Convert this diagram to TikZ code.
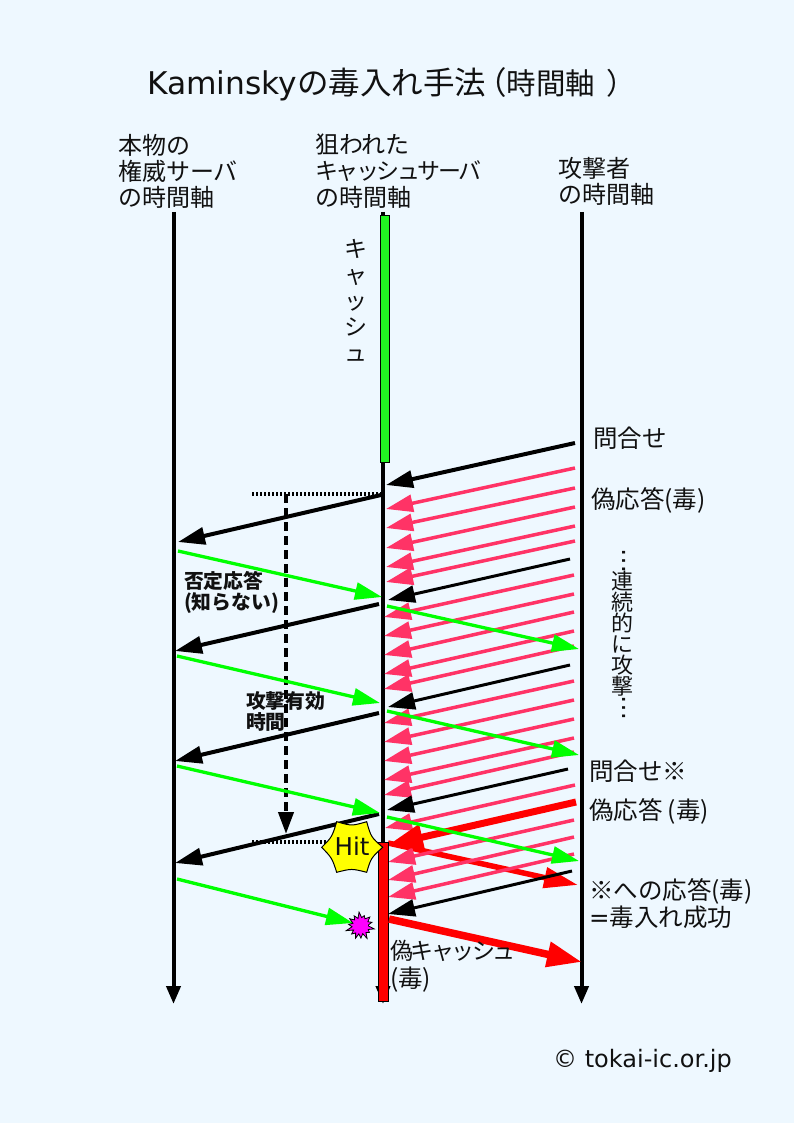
\documentclass[tikz,border=0pt]{standalone}
\usepackage{fontspec}
\usetikzlibrary{arrows.meta}
\setmainfont{DejaVu Sans}
\newfontfamily\jp{Noto Sans CJK JP}
\newfontfamily\jpt[LetterSpace=-10.5]{Noto Sans CJK JP}
\definecolor{bgc}{HTML}{EEF8FF}
\definecolor{pinkc}{HTML}{FF3366}
\definecolor{greenc}{HTML}{00FF00}
\definecolor{barg}{HTML}{22F522}
\definecolor{redc}{HTML}{FF0000}
\definecolor{magc}{HTML}{FF00FF}
\definecolor{yelc}{HTML}{FFFF00}
\definecolor{txt}{HTML}{111111}
\newcommand{\conn}[6]{\coordinate (#2s) at (#3,#4); \coordinate (#2e) at (#5,#6); \draw[#1] (#2s) -- (#2e);}
\tikzset{
 axisline/.style={line width=4pt,black,-{Triangle[length=18pt,width=14pt]}},
 blackarr/.style={line width=4pt,black,-{Triangle[length=27pt,width=17pt]}},
 blackthin/.style={line width=3pt,black,-{Triangle[length=27pt,width=17pt]}},
 pinkarr/.style={line width=3.5pt,pinkc,-{Triangle[length=27pt,width=17pt]}},
 greenarr/.style={line width=3.3pt,greenc,-{Triangle[length=27pt,width=17pt]}},
 redone/.style={line width=7pt,redc,-{Triangle[length=35pt,width=25pt]}},
 redtwo/.style={line width=5.5pt,redc,-{Triangle[length=34pt,width=20pt]}},
 redthree/.style={line width=7.5pt,redc,-{Triangle[length=35pt,width=24pt]}},
 dots/.style={line width=3.5pt,black,dash pattern=on 2pt off 2pt},
 dashv/.style={line width=4pt,black,dash pattern=on 9pt off 5pt,-{Triangle[length=22pt,width=15pt]}},
 lab/.style={inner sep=0pt,outer sep=0pt,anchor=north west,align=left,text=txt,font=\fontsize{24.5}{26}\selectfont\jp},
 hlab/.style={inner sep=0pt,outer sep=0pt,anchor=north west,align=left,text=txt,font=\fontsize{24}{26}\selectfont\jp},
 blab/.style={inner sep=0pt,outer sep=0pt,anchor=north west,align=left,text=txt,font=\fontsize{19.8}{21}\selectfont\jp\bfseries},
 vlab/.style={inner sep=0pt,outer sep=0pt,anchor=north,align=center,text=txt},
 barbox/.style={draw=black,line width=1pt},
}
\begin{document}
\begin{tikzpicture}[x=1pt,y=-1pt]
\useasboundingbox (0,0) rectangle (794,1123);
\fill[bgc] (0,0) rectangle (794,1123);

% title
\node[inner sep=0pt,anchor=base west,text=txt,font=\fontsize{31.3}{36}\selectfont] (title) at (147,95) {Kaminsky{\jp\fontsize{31.5}{36}\selectfont の毒入れ手法\hspace{-11pt}（\fontsize{29.5}{36}\selectfont 時間軸\hspace{11pt}）}};

% column heads
\node[hlab] (h1) at (118,134) {本物の\\権威サーバ\\の時間軸};
\node[hlab] (h2) at (315,134) {狙われた\\{\fontsize{23}{26}\jpt\selectfont キャッシュサーバ}\\[1pt]の時間軸};
\node[hlab] (h3) at (558,157) {攻撃者\\の時間軸};

% time axes
\coordinate (a1t) at (173.5,212); \coordinate (a1b) at (173.5,1004);
\coordinate (a2t) at (383,212); \coordinate (a2b) at (383,1004);
\coordinate (a3t) at (581.5,212); \coordinate (a3b) at (581.5,1004);
\draw[axisline] (a1t) -- (a1b);
\draw[axisline] (a2t) -- (a2b);
\draw[axisline] (a3t) -- (a3b);

% dotted marks and duration
\coordinate (d1a) at (252,494); \coordinate (d1b) at (381,494);
\coordinate (d2a) at (252,842); \coordinate (d2b) at (330,842);
\draw[dots] (d1a) -- (d1b);
\draw[dots] (d2a) -- (d2b);
\coordinate (dva) at (286,494); \coordinate (dvb) at (286,834);
\draw[dashv] (dva) -- (dvb);

% red: forged reply going right
\conn{redtwo}{rb}{388}{843}{578}{885}

% pink attack arrows
\foreach \n/\xa/\ya/\xb/\yb in {
 p1/575/468/386/509, p2/575/488/386/528, p3/575/507/386/548, p4/575/526/386/567, p5/575/541/386/582,
 p6/574/575/384/617, p7/574/594/384/636, p8/574/612/384/655, p9/574/631/384/674, p10/574/646/384/689,
 p11/574/681/384/723, p12/574/700/384/742, p13/574/719/384/761, p14/574/738/384/780, p15/574/752/384/795,
 p16/575/785/385/828, p17/574/820/388/862, p18/574/837/388/880, p19/574/854/388/897}
 {\conn{pinkarr}{\n}{\xa}{\ya}{\xb}{\yb}}

% hit reply
\conn{redone}{ra}{576}{802}{388}{845}

% black arrows
\conn{blackarr}{k1}{575}{443}{386}{485}
\conn{blackthin}{k2}{570}{559}{388}{600}
\conn{blackthin}{k3}{570}{665}{388}{707}
\conn{blackthin}{k4}{568}{769}{387}{810}
\conn{blackthin}{k5}{572}{871}{388}{914}
\conn{blackarr}{l1}{381}{495}{178}{542}
\conn{blackarr}{l2}{379}{604}{175}{651}
\conn{blackarr}{l3}{379}{713}{175}{761}
\conn{blackarr}{l4}{379}{814}{175}{863}

% green arrows
\conn{greenarr}{g1}{178}{551}{382}{597}
\conn{greenarr}{g2}{177}{656}{380}{703}
\conn{greenarr}{g3}{177}{766}{380}{813}
\conn{greenarr}{g4}{177}{879}{353}{923}
\conn{greenarr}{h1a}{387}{606}{579}{649}
\conn{greenarr}{h2a}{387}{711}{579}{755}
\conn{greenarr}{h3a}{387}{817}{579}{861}

% cache bars
\node[barbox,fill=barg,minimum width=9.5pt,minimum height=247pt,inner sep=0pt,anchor=north] (cache) at (385,215) {};
\node[barbox,fill=redc,minimum width=10pt,minimum height=159pt,inner sep=0pt,anchor=north] (fake) at (383,842) {};

% final poison
\conn{redthree}{rc}{389}{919}{582}{962}

% hit star
\draw[black,line width=1pt,fill=yelc] (321.7,847.3)
  .. controls (332,837) .. (336.7,821.7)
  .. controls (351.7,826) .. (366.7,821.7)
  .. controls (371,837) .. (382.7,847.3)
  .. controls (371,858) .. (366.7,872.3)
  .. controls (351.7,868.5) .. (336.7,872.3)
  .. controls (332,858) .. (321.7,847.3) -- cycle;
\node[inner sep=0pt,text=txt,font=\fontsize{24.5}{28}\selectfont] (hit) at (352,846.5) {Hit};

% magenta burst
\begin{scope}[shift={(360.5,926)}]
\draw[black,line width=.8pt,fill=magc] (0:8)
 \foreach \a/\r in {12/14,24/8.5,36/11,50/8.5,62/14,74/8,88/12,102/8,112/13,125/8.5,138/12,150/8,162/15,175/8.5,188/12,200/8,214/13,226/8.5,238/12,252/8,264/14,278/8.5,290/11,302/8.5,316/13,330/8.5,342/12,352/8}
 { -- (\a:\r)} -- cycle;
\end{scope}

% side labels
\node[vlab,font=\fontsize{23}{26}\selectfont\jp] (vcache) at (356,239) {キ\\ャ\\ッ\\シ\\ュ};
\node[vlab,font=\fontsize{22}{21}\selectfont\jp] (vattack) at (622,571.5) {連\\続\\的\\に\\攻\\撃};
\node[inner sep=0pt,rotate=-90,anchor=base,text=txt,font=\fontsize{25}{28}\selectfont] (dtop) at (622,561) {…};
\node[inner sep=0pt,rotate=-90,anchor=base,text=txt,font=\fontsize{25}{28}\selectfont] (dbot) at (622,708) {…};

\node[lab] (t1) at (593,427) {問合せ};
\node[lab] (t2) at (591,488) {偽応答(毒)};
\node[lab] (t3) at (589,760) {問合せ※};
\node[lab] (t4) at (589,799) {偽応答 (毒)};
\node[lab] (t5) at (589,879) {※への応答(毒)\\[1pt]{\fontfamily{\rmdefault}\selectfont =}毒入れ成功};
\node[lab] (t6) at (390,940) {{\fontsize{23}{26}\jpt\selectfont 偽キャッシュ}\\[2pt](毒)};
\node[blab] (b1) at (184,571.5) {否定応答\\(知らない)};
\node[blab] (b2) at (246,691.5) {攻撃有効\\時間};
\node[inner sep=0pt,anchor=base west,text=txt,font=\fontsize{24}{28}\selectfont] (copy) at (553,1067) {© tokai-ic.or.jp};
\end{tikzpicture}
\end{document}
